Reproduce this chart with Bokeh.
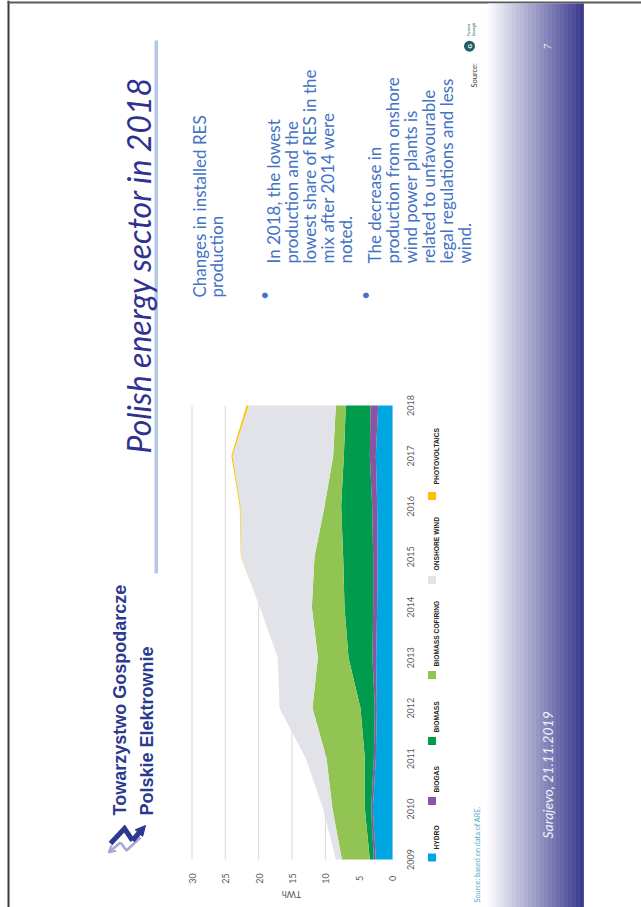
import math
from bokeh.plotting import figure
from bokeh.models import Range1d, ColumnDataSource, Arrow, NormalHead, OpenHead
from bokeh.core.properties import value
from bokeh.embed import file_html
from bokeh.resources import INLINE

# ---------------- data (TWh) ----------------
years = [2009, 2010, 2011, 2012, 2013, 2014, 2015, 2016, 2017, 2018]
hydro = [2.5, 2.95, 2.5, 2.35, 2.45, 2.3, 2.25, 2.3, 2.5, 2.15]
biogas = [0.3, 0.25, 0.3, 0.3, 0.55, 0.6, 0.65, 0.75, 0.9, 1.15]
biomass = [0.6, 0.95, 1.35, 2.15, 3.6, 4.3, 4.5, 4.65, 3.9, 3.7]
cofiring = [4.2, 4.85, 5.75, 7.2, 4.6, 4.9, 4.3, 2.5, 1.6, 1.5]
onshore_wind = [0.9, 1.4, 3.1, 4.95, 6.0, 7.8, 11.0, 12.6, 15.1, 13.1]
photovoltaics = [0, 0, 0, 0, 0, 0, 0.05, 0.12, 0.17, 0.3]
series_keys = ["hydro", "biogas", "biomass", "cofiring", "wind", "pv"]
series_names = ["HYDRO", "BIOGAS", "BIOMASS", "BIOMASS COFIRING", "ONSHORE WIND", "PHOTOVOLTAICS"]
value_ticks = [0, 5, 10, 15, 20, 25, 30]
year_labels = [str(y) for y in years]

colors = ["#00A6E2", "#8B53A1", "#009B4D", "#92C454", "#E2E3E8", "#FFC000"]

# ---------------- page canvas (1 unit = 1 px, y downwards) ----------------
W, H = 641, 907
p = figure(width=W, height=H, output_backend="svg", toolbar_location=None,
           x_range=Range1d(0, W), y_range=Range1d(H, 0),
           x_axis_location=None, y_axis_location=None,
           min_border=0, min_border_left=0, min_border_right=0,
           min_border_top=0, min_border_bottom=0)
p.outline_line_color = None
p.background_fill_color = "white"
p.border_fill_color = "white"
p.xgrid.grid_line_color = None
p.ygrid.grid_line_color = None

# chart scales: value axis runs right->left, years bottom->top
FL, FR, FT, FB = 192, 392, 405, 859      # chart plot area on the page
VMAX = value_ticks[-1]
px_per_val = (FR - FL) / VMAX
px_per_year = (FB - FT) / (years[-1] - years[0])
p.extra_x_ranges = {"val": Range1d(FR / px_per_val, (FR - W) / px_per_val)}
p.extra_y_ranges = {"yr": Range1d(years[0] - (H - FB) / px_per_year,
                                  years[-1] + FT / px_per_year)}

RAD90 = math.pi / 2


def box(x0, y0, x1, y1, color):
    p.quad(left=[x0], right=[x1], top=[y0], bottom=[y1], fill_color=color,
           line_color=None)


def txt(text, x, y, size, color, font="Lato", style="normal", angle=RAD90,
        align="left", baseline="alphabetic"):
    p.text(x=[x], y=[y], text=[text], angle=angle, text_font=value(font),
           text_font_size=f"{size}px", text_color=color, text_font_style=style,
           text_align=align, text_baseline=baseline)


# slide border
box(7, 0, 9, H, "#3A3A3A")
box(7, 1, W, 3, "#5A5A5A")

# gradient band
g0, g1 = 487, 583
c0 = (250, 250, 253)
c1 = (60, 60, 143)
steps = 24
for i in range(steps):
    t = i / (steps - 1)
    c = tuple(int(round(c0[k] + (c1[k] - c0[k]) * t)) for k in range(3))
    xa = g0 + (g1 - g0) * i / steps
    xb = g0 + (g1 - g0) * (i + 1) / steps
    box(xa, 3, xb + 0.4, H, "#%02x%02x%02x" % c)

# title rule + title
box(154, 40, 157.5, 573, "#B4C7E7")
txt("Polish energy sector in 2018", 137.5, 453, 32, "#2E3192", style="italic")

# body text
body = "#4472C4"
BS = 17
txt("Changes in installed RES", 198.5, 297, BS, body)
txt("production", 215.5, 297, BS, body)

txt("\u2022", 263.3, 295, 15, body, align="center", baseline="middle")
for i, line in enumerate(["In 2018, the lowest", "production and the",
                          "lowest share of RES in the", "mix after 2014 were", "noted."]):
    txt(line, 273 + 18 * i, 263, BS, body)

txt("\u2022", 364, 295, 15, body, align="center", baseline="middle")
for i, line in enumerate(["The decrease in", "production from onshore",
                          "wind power plants is", "related to unfavourable",
                          "legal regulations and less", "wind."]):
    txt(line, 373.5 + 18 * i, 263, BS, body)

# company logo
navy = "#2B3990"
txt("Towarzystwo Gospodarcze", 119.5, 815, 18, navy, font="Liberation Sans", style="bold")
txt("Polskie Elektrownie", 146.5, 815, 18, navy, font="Liberation Sans", style="bold")
zig_l = [(140, 837), (126, 850), (120, 842), (108, 852)]
p.line(x=[a for a, b in zig_l[:-1]], y=[b for a, b in zig_l[:-1]], line_color="#A3A9D3",
       line_width=2.5)
p.add_layout(Arrow(x_start=zig_l[-2][0], y_start=zig_l[-2][1], x_end=zig_l[-1][0],
                   y_end=zig_l[-1][1], line_color="#A3A9D3", line_width=2.5,
                   end=OpenHead(size=7, line_color="#A3A9D3", line_width=2)))
zig_n = [(110, 843), (124, 828), (132, 840), (145, 825)]
p.line(x=[a for a, b in zig_n[:-1]], y=[b for a, b in zig_n[:-1]], line_color=navy,
       line_width=5, line_join="miter")
p.add_layout(Arrow(x_start=zig_n[-2][0], y_start=zig_n[-2][1], x_end=zig_n[-1][0],
                   y_end=zig_n[-1][1], line_color=navy, line_width=5,
                   end=NormalHead(size=10, fill_color=navy, line_color=navy)))

# source / Forum Energii logo
txt("Source:", 474, 87, 7.5, "#404040")
p.scatter(x=[469], y=[45.7], size=11, marker="circle", fill_color="#1C5F66", line_color=None)
txt("G", 469, 45.7, 6, "white", font="Liberation Sans", style="bold",
    align="center", baseline="middle")
txt("Forum", 467.5, 36, 4.5, "#1C5F66")
txt("Energii", 473, 36, 4.5, "#1C5F66")

# page number and footer
txt("7", 546.5, 49, 10, "#EEEEF5", style="italic")
txt("Sarajevo, 21.11.2019", 547, 838, 14, "#F0F0F8", style="italic")

# ---------------- chart ----------------
source = ColumnDataSource(dict(year=years, hydro=hydro, biogas=biogas, biomass=biomass,
                               cofiring=cofiring, wind=onshore_wind, pv=photovoltaics))

# value gridlines: 1-px bands through the value and year scales
grid_w = 1.0 / px_per_val
for v in value_ticks:
    p.harea(x1=[v, v], x2=[v + grid_w, v + grid_w], y=[years[0], years[-1]],
            x_range_name="val", y_range_name="yr", fill_color="#D9D9D9")

p.harea_stack(stackers=series_keys, y="year", color=colors, source=source,
              x_range_name="val", y_range_name="yr")

# value tick labels (x through value scale)
p.text(x=value_ticks, y=[878] * len(value_ticks), text=[str(v) for v in value_ticks],
       x_range_name="val", angle=RAD90, text_align="center", text_baseline="middle",
       text_font=value("Lato"), text_font_size="9px", text_color="#595959")
# year tick labels (y through year scale)
p.text(x=[410] * len(years), y=years, text=year_labels, y_range_name="yr",
       angle=RAD90, text_align="center", text_baseline="middle",
       text_font=value("Lato"), text_font_size="9px", text_color="#595959")

txt("TWh", 291, 894, 9, "#595959", angle=math.pi, align="center", baseline="middle")
txt("Source: based on data of ARE.", 476.5, 902, 7.3, "#4BACC6")

# legend
legend_sq = [857, 800.5, 740.5, 674.5, 579.5, 495.5]
legend_tx = [849, 792, 732, 666, 570, 484]
for name, col, yc, yt in zip(series_names, colors, legend_sq, legend_tx):
    box(427.5, yc - 4, 435.5, yc + 4, col)
    txt(name, 435.5, yt, 6.7, "#262626", font="Liberation Sans Narrow, Liberation Sans",
        style="bold")

open("out.html", "w").write(file_html(p, INLINE))
